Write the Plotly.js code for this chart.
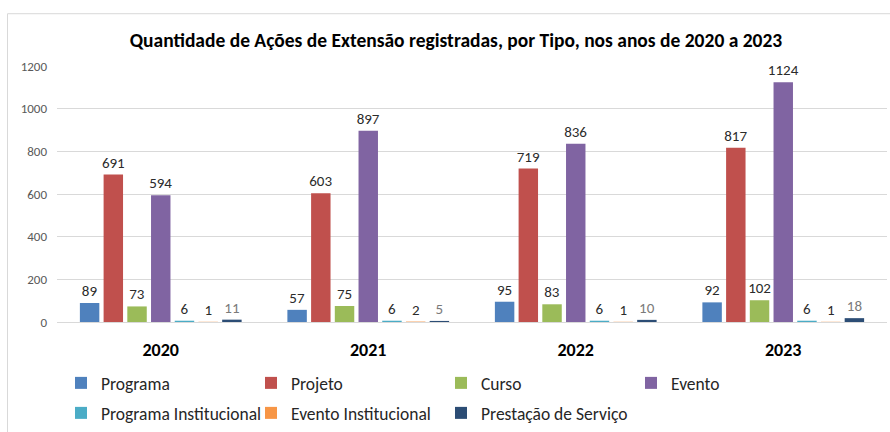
<!DOCTYPE html>
<html>
<head>
<meta charset="utf-8">
<script src="https://cdn.plot.ly/plotly-3.0.1.min.js"></script>
<style>html,body{margin:0;padding:0;background:#fff;}#chart{width:890px;height:432px;}</style>
</head>
<body>
<div id="chart"></div>
<script>
const years = ['2020', '2021', '2022', '2023'];
const seriesNames = ['Programa', 'Projeto', 'Curso', 'Evento', 'Programa Institucional', 'Evento Institucional', 'Prestação de Serviço'];
const programa = [89, 57, 95, 92];
const projeto = [691, 603, 719, 817];
const curso = [73, 75, 83, 102];
const evento = [594, 897, 836, 1124];
const programaInst = [6, 6, 6, 6];
const eventoInst = [1, 2, 1, 1];
const prestacao = [11, 5, 10, 18];
const colors = ['#4F81BD', '#C0504D', '#9BBB59', '#8064A2', '#4BACC6', '#F79646', '#2C4D75'];
const labelColors = ['#2b2b2b', '#2b2b2b', '#2b2b2b', '#2b2b2b', '#2b2b2b', '#2b2b2b', '#7a7a7a'];
const legendRow = ['legend', 'legend', 'legend', 'legend', 'legend2', 'legend2', 'legend2'];
const yTicks = [0, 200, 400, 600, 800, 1000, 1200];

const FONT = "Carlito, 'Liberation Sans Narrow', 'DejaVu Sans Condensed', sans-serif";
const allValues = [programa, projeto, curso, evento, programaInst, eventoInst, prestacao];

const traces = allValues.map((vals, i) => ({
  type: 'bar',
  name: seriesNames[i],
  x: years,
  y: vals,
  legend: legendRow[i],
  marker: {color: colors[i]},
  text: vals.map(String),
  textposition: 'outside',
  constraintext: 'none',
  cliponaxis: false,
  textfont: {family: FONT, size: 15, color: labelColors[i]},
  hoverinfo: 'x+y+name'
}));

const L = 57, R = 887, T = 66, B = 323;
const px = v => (v - L) / (R - L);
const py = v => (B - v) / (B - T);

const legendBase = {
  orientation: 'h',
  x: px(61), xanchor: 'left',
  yanchor: 'middle',
  entrywidth: 145,
  entrywidthmode: 'pixels',
  itemwidth: 30,
  font: {family: FONT, size: 17.5, color: '#262626'},
  traceorder: 'normal',
  bgcolor: 'rgba(0,0,0,0)'
};

const layout = {
  width: 890,
  height: 432,
  margin: {l: L, r: 890 - R, t: T, b: 432 - B},
  paper_bgcolor: '#ffffff',
  plot_bgcolor: '#ffffff',
  font: {family: FONT, color: '#404040'},
  title: {
    text: '<b>Quantidade de Ações de Extensão registradas, por Tipo, nos anos de 2020 a 2023</b>',
    font: {family: FONT, size: 19.5, color: '#000000'},
    xref: 'container', yref: 'container',
    x: 456 / 890, xanchor: 'center',
    y: 1 - 40 / 432, yanchor: 'middle'
  },
  barmode: 'group',
  bargap: 0.2,
  bargroupgap: 0.18,
  xaxis: {
    type: 'category',
    showgrid: false,
    showline: true,
    linecolor: '#d9d9d9',
    linewidth: 1,
    ticks: '',
    tickfont: {family: FONT, size: 18, color: '#000000', weight: 'bold'},
    ticklabelstandoff: 11
  },
  yaxis: {
    range: [0, 1200],
    tickvals: yTicks,
    ticktext: yTicks.map(String),
    showgrid: true,
    gridcolor: '#d9d9d9',
    gridwidth: 1,
    zeroline: false,
    showline: false,
    ticks: '',
    tickfont: {family: FONT, size: 13, color: '#595959'},
    ticklabelstandoff: 9
  },
  showlegend: true,
  legend: Object.assign({}, legendBase, {y: py(383)}),
  legend2: Object.assign({}, legendBase, {y: py(413)}),
  shapes: [
    {type: 'line', xref: 'paper', yref: 'paper', x0: px(7.5), x1: px(900), y0: py(13.5), y1: py(13.5), line: {color: '#d9d9d9', width: 1}},
    {type: 'line', xref: 'paper', yref: 'paper', x0: px(7.5), x1: px(7.5), y0: py(13.5), y1: py(440), line: {color: '#d9d9d9', width: 1}}
  ]
};

Plotly.newPlot('chart', traces, layout, {displayModeBar: false, staticPlot: true});
</script>
</body>
</html>
